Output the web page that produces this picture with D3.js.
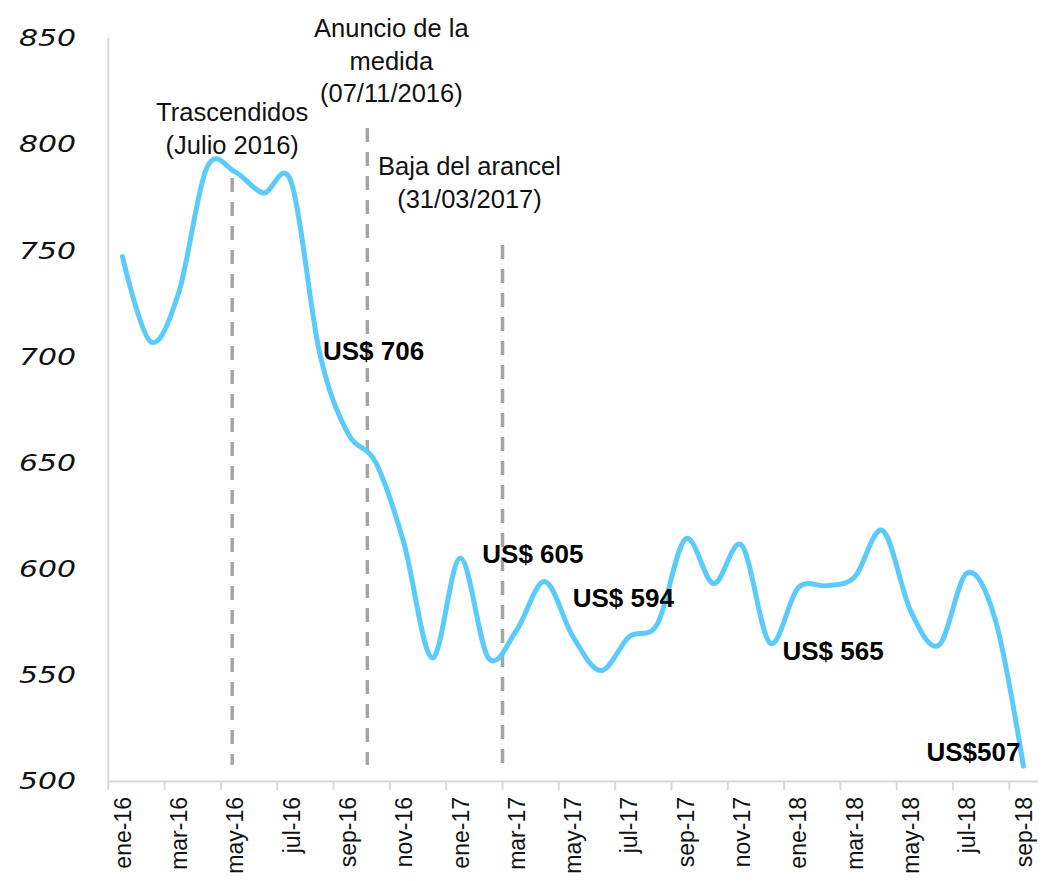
<!DOCTYPE html>
<html>
<head>
<meta charset="utf-8">
<script src="https://cdn.jsdelivr.net/npm/d3@7"></script>
<style>
    body { margin: 0; background: #fff; }
    svg { display: block; }
</style>
</head>
<body>
<svg id="chart" width="1050" height="881"></svg>
<script>
var months = ["ene-16", "feb-16", "mar-16", "abr-16", "may-16", "jun-16", "jul-16", "ago-16",
    "sep-16", "oct-16", "nov-16", "dic-16", "ene-17", "feb-17", "mar-17", "abr-17", "may-17",
    "jun-17", "jul-17", "ago-17", "sep-17", "oct-17", "nov-17", "dic-17", "ene-18", "feb-18",
    "mar-18", "abr-18", "may-18", "jun-18", "jul-18", "ago-18", "sep-18"];
var prices = [747, 707, 730, 789, 787, 777, 782, 702, 664, 650, 612, 558, 605, 558, 571, 594,
    568, 552, 568, 574, 614, 593, 611, 565, 591, 592, 596, 618, 580, 564, 598, 576, 507];
var yTicks = [500, 550, 600, 650, 700, 750, 800, 850];

// hitos (posicion en meses desde ene-16)
var eventMonth = [4.4, 9.2, 14.0];
var eventText = [
    ["Trascendidos", "(Julio 2016)"],
    ["Anuncio de la", "medida", "(07/11/2016)"],
    ["Baja del arancel", "(31/03/2017)"]
];

var labelMonth = [7, 12, 15, 23, 32];
var labelText = ["US$ 706", "US$ 605", "US$ 594", "US$ 565", "US$507"];

var chart = d3.select('#chart');
// ojo: "top" choca con window.top
var plotLeft = 108.3, plotRight = 1037.5, plotTop = 38, plotBottom = 781;

var x = d3.scaleBand().domain(months).range([plotLeft, plotRight]).padding(0);
var xm = d3.scaleLinear().domain([0, months.length]).range([plotLeft, plotRight]);
var y = d3.scaleLinear().domain([500, 850]).range([plotBottom, plotTop]);

// eje y
chart.append('line')
    .attr('x1', plotLeft).attr('x2', plotLeft)
    .attr('y1', plotTop).attr('y2', plotBottom)
    .attr('stroke', '#d9d9d9').attr('stroke-width', 2);

chart.selectAll('text.ytick').data(yTicks).enter().append('text')
    .attr('class', 'ytick')
    .attr('x', 76)
    .attr('y', function(d) { return y(d); })
    .attr('dy', '0.36em')
    .attr('text-anchor', 'end')
    .attr('textLength', 57)
    .attr('lengthAdjust', 'spacingAndGlyphs')
    .style('font-family', 'DejaVu Sans')
    .style('font-style', 'italic')
    .style('font-size', '23px')
    .attr('fill', '#111')
    .text(String);

// eje x
var xAxis = d3.axisBottom(x)
    .tickValues(months.filter(function(d, i) { return i % 2 === 0; }))
    .tickSize(0);
var gx = chart.append('g').attr('transform', 'translate(0,' + plotBottom + ')').call(xAxis);
gx.select('.domain').attr('stroke', '#d9d9d9').attr('stroke-width', 2);
gx.selectAll('text')
    .attr('transform', 'rotate(-90)')
    .attr('x', -16)
    .attr('y', 0)
    .attr('dy', '0.36em')
    .attr('text-anchor', 'end')
    .style('font-family', 'Liberation Sans, Arial, sans-serif')
    .style('font-size', '23px')
    .attr('fill', '#111');

// marcas cada dos meses, en el borde de la banda
chart.selectAll('line.xtick').data(months.filter(function(d, i) { return i % 2 === 0; }))
    .enter().append('line')
    .attr('class', 'xtick')
    .attr('x1', function(d) { return x(d); })
    .attr('x2', function(d) { return x(d); })
    .attr('y1', plotBottom)
    .attr('y2', plotBottom + 9)
    .attr('stroke', '#d9d9d9').attr('stroke-width', 2);

// lineas de hitos
var eventTop = [178, 128, 245];
chart.selectAll('line.event').data(eventMonth).enter().append('line')
    .attr('class', 'event')
    .attr('x1', function(d) { return xm(d); })
    .attr('x2', function(d) { return xm(d); })
    .attr('y1', function(d, i) { return eventTop[i]; })
    .attr('y2', 765)
    .attr('stroke', '#a6a6a6')
    .attr('stroke-width', 3.5)
    .attr('stroke-dasharray', '14,10');

// textos de hitos
var eventDx = [0, 24, -33];
var eventFirst = [121, 37, 175];
eventText.forEach(function(lines, i) {
    chart.append('text')
        .attr('x', xm(eventMonth[i]) + eventDx[i])
        .attr('y', eventFirst[i])
        .attr('text-anchor', 'middle')
        .style('font-family', 'Liberation Sans, Arial, sans-serif')
        .style('font-size', '25.5px')
        .attr('fill', '#111')
        .selectAll('tspan').data(lines).enter().append('tspan')
        .attr('x', xm(eventMonth[i]) + eventDx[i])
        .attr('dy', function(d, j) { return j === 0 ? 0 : 32.5; })
        .text(String);
});

// serie
var line = d3.line()
    .x(function(d, i) { return x(months[i]) + x.bandwidth() / 2; })
    .y(function(d) { return y(d); })
    .curve(d3.curveCardinal.tension(0));

chart.append('path')
    .datum(prices)
    .attr('d', line)
    .attr('fill', 'none')
    .attr('stroke', '#5bcbfb')
    .attr('stroke-width', 5)
    .attr('stroke-linecap', 'round');

// etiquetas de valores
var labelDx = [3.5, 22, 28, 12.5, -3];
var labelDy = [8, 5, 26, 17, -5];
chart.selectAll('text.vlabel').data(labelMonth).enter().append('text')
    .attr('class', 'vlabel')
    .attr('x', function(d, i) { return x(months[d]) + x.bandwidth() / 2 + labelDx[i]; })
    .attr('y', function(d, i) { return y(prices[d]) + labelDy[i]; })
    .attr('text-anchor', function(d, i) { return i === labelMonth.length - 1 ? 'end' : 'start'; })
    .style('font-family', 'Liberation Sans, Arial, sans-serif')
    .style('font-weight', 'bold')
    .style('font-size', '26px')
    .attr('fill', '#000')
    .text(function(d, i) { return labelText[i]; });
</script>
</body>
</html>
